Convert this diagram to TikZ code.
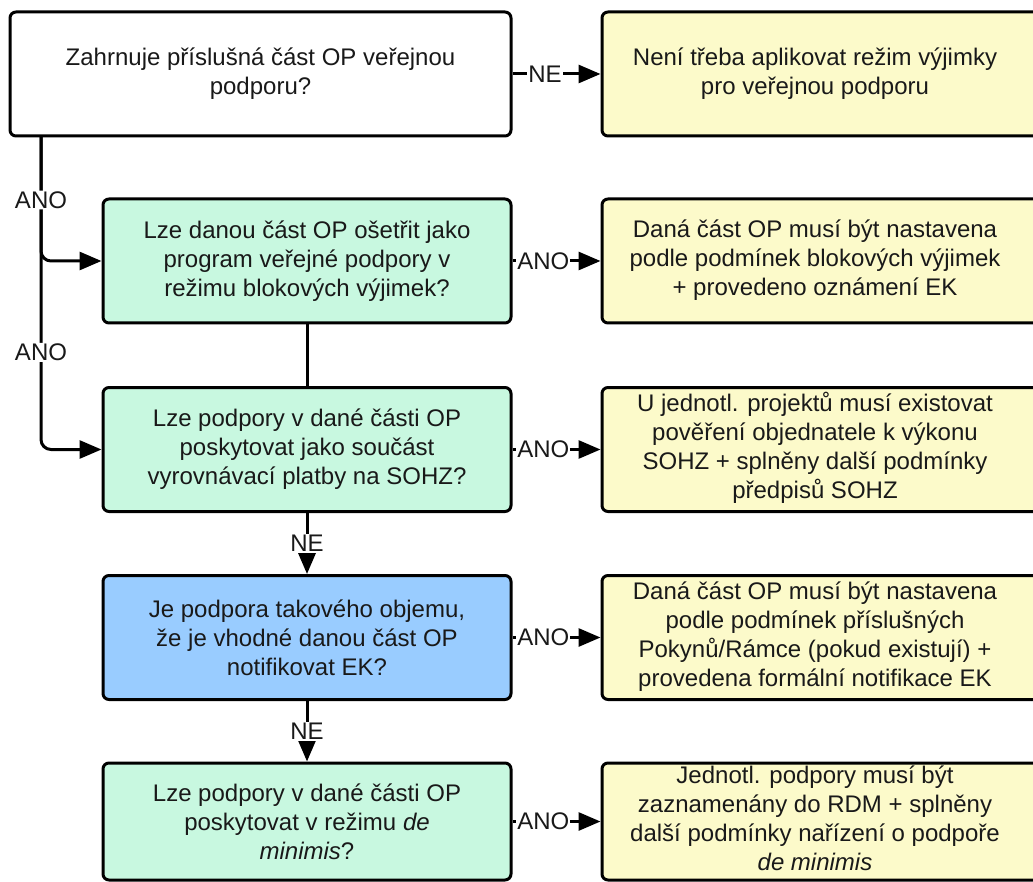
\documentclass[tikz,border=0pt]{standalone}
\usepackage{fontspec}
\setmainfont{Liberation Sans}
\usetikzlibrary{arrows.meta}
\definecolor{grn}{RGB}{200,248,224}
\definecolor{yel}{RGB}{252,250,202}
\definecolor{blu}{RGB}{153,204,255}
\newcommand{\rtext}[1]{\begin{tabular}{@{}c@{}}#1\end{tabular}\hspace{14pt}}
\tikzset{
  box/.style={draw=black, line width=3pt, rounded corners=6pt, align=center, inner sep=0pt,
    font=\fontsize{24}{29}\selectfont, text=black!90},
  lbox/.style={box, minimum width=408pt, minimum height=124pt},
  rbox/.style={box, fill=yel, minimum width=440pt, minimum height=124pt},
  conn/.style={line width=3pt, -{Triangle[length=22pt,width=18pt]}},
  plain/.style={line width=3pt},
  lab/.style={fill=white, inner sep=1pt, font=\fontsize{24}{26}\selectfont, text=black!90}
}
\begin{document}
\begin{tikzpicture}[x=1pt,y=-1pt]
\useasboundingbox (0,0) rectangle (1033,882);
% left column
\node[box, fill=white, minimum width=501pt, minimum height=124pt] (b1) at (260.5,74)
  {Zahrnuje příslušná část OP veřejnou\\podporu?};
\node[lbox, fill=grn] (b2) at (307,261)
  {Lze danou část OP ošetřit jako\\program veřejné podpory v\\režimu blokových výjimek?};
\node[lbox, fill=grn] (b3) at (307,449.5)
  {Lze podpory v dané části OP\\poskytovat jako součást\\vyrovnávací platby na SOHZ?};
\node[lbox, fill=blu] (b4) at (307,637.5)
  {Je podpora takového objemu,\\že je vhodné danou část OP\\notifikovat EK?};
\node[lbox, fill=grn, minimum height=117pt] (b5) at (307,821.5)
  {Lze podpory v dané části OP\\poskytovat v režimu \textit{de}\\\textit{minimis}?};
% right column
\node[rbox] (r1) at (822,74)
  {\rtext{Není třeba aplikovat režim výjimky\\pro veřejnou podporu}};
\node[rbox] (r2) at (822,261)
  {\rtext{Daná část OP musí být nastavena\\podle podmínek blokových výjimek\\+ provedeno oznámení EK}};
\node[rbox] (r3) at (822,449.5)
  {\rtext{U jednotl. projektů musí existovat\\pověření objednatele k výkonu\\SOHZ + splněny další podmínky\\předpisů SOHZ}};
\node[rbox] (r4) at (822,637.5)
  {\rtext{Daná část OP musí být nastavena\\podle podmínek příslušných\\Pokynů/Rámce (pokud existují) +\\provedena formální notifikace EK}};
\node[rbox, minimum height=117pt] (r5) at (822,821.5)
  {\rtext{Jednotl. podpory musí být\\zaznamenány do RDM + splněny\\další podmínky nařízení o podpoře\\\textit{de minimis}}};
% horizontal connectors
\draw[conn] (b1.east) -- (r1.west) node[lab, pos=0.37] {NE};
\draw[conn] (b2.east) -- (r2.west) node[lab, pos=0.35] {ANO};
\draw[conn] (b3.east) -- (r3.west) node[lab, pos=0.35] {ANO};
\draw[conn] (b4.east) -- (r4.west) node[lab, pos=0.35] {ANO};
\draw[conn] (b5.east) -- (r5.west) node[lab, pos=0.35] {ANO};
% left spine
\coordinate (sp) at (41,136);
\draw[conn, rounded corners=10pt] (sp) |- (b3.west) node[lab, pos=0.345] {ANO};
\draw[conn, rounded corners=10pt] (sp) |- (b2.west) node[lab, pos=0.256] {ANO};
% vertical connectors
\draw[plain] (b2.south) -- (b3.north);
\draw[conn] (b3.south) -- (b4.north) node[lab, midway] {NE};
\draw[conn] (b4.south) -- (b5.north) node[lab, midway] {NE};
\end{tikzpicture}
\end{document}
